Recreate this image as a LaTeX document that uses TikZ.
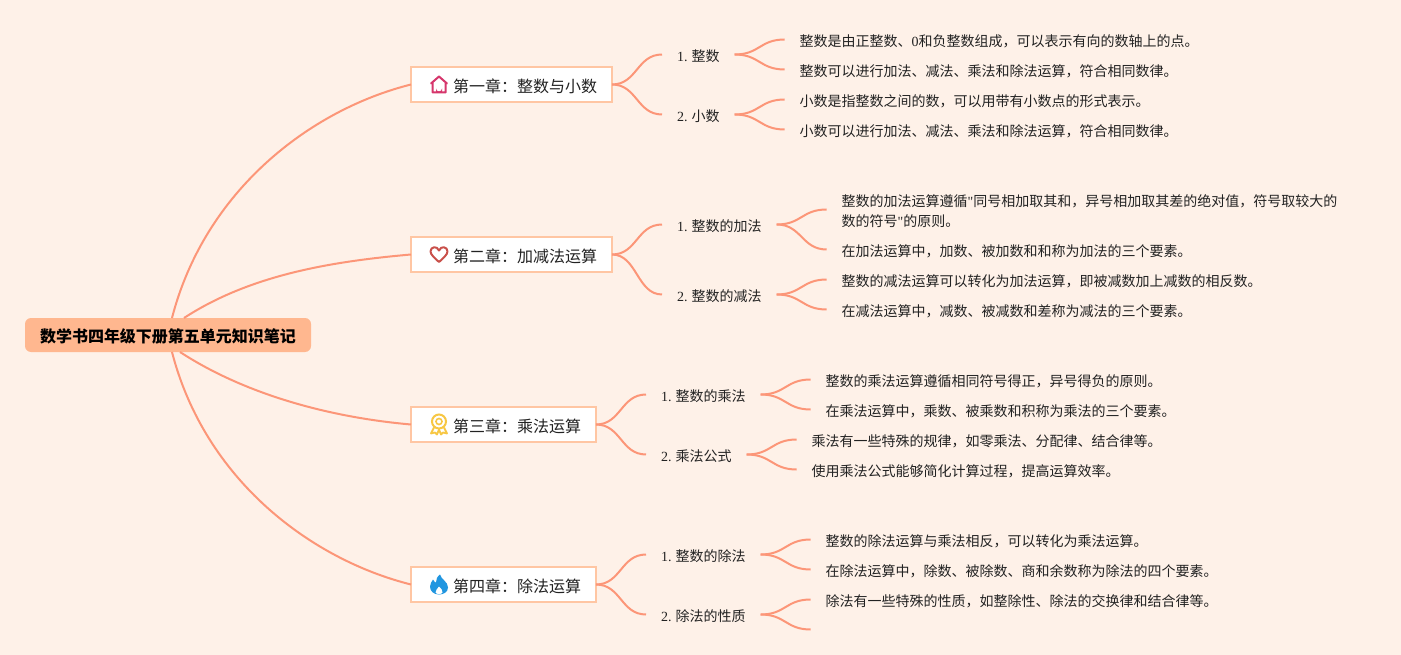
\documentclass[tikz,border=0pt]{standalone}
\usepackage{fontspec}
\setmainfont{Noto Sans CJK SC}
\newfontfamily\numfont{Liberation Serif}
\usetikzlibrary{positioning}
\definecolor{bgcol}{HTML}{FEF1E8}
\definecolor{rootcol}{HTML}{FFB78F}
\definecolor{linecol}{HTML}{FC9678}
\definecolor{framecol}{HTML}{FFC6A3}
\definecolor{txtcol}{HTML}{222222}
\definecolor{homecol}{HTML}{D6366C}
\definecolor{heartcol}{HTML}{C9504A}
\definecolor{medalcol}{HTML}{F7C744}
\definecolor{flamecol}{HTML}{2196E0}
\tikzset{
    homeicon/.pic={
        \draw[line width=2pt, draw=homecol, line join=round, line cap=round] (-8,-1) -- (0,-8) -- (8,-1) (-6.5,-2) -- (-6.5,8) -- (6.5,8) -- (6.5,-2);
        \fill[homecol] (-3,8) -- (-3,4) arc[start angle=180, end angle=0, radius=3] -- (3,8) -- cycle;
    },
    hearticon/.pic={
        \draw[line width=2pt, draw=heartcol, line join=round] (0,7.5) .. controls (-4,4) and (-8.5,0) .. (-8.5,-3) .. controls (-8.5,-8) and (-2,-9) .. (0,-4) .. controls (2,-9) and (8.5,-8) .. (8.5,-3) .. controls (8.5,0) and (4,4) .. (0,7.5) -- cycle;
    },
    medalicon/.pic={
        \draw[line width=2pt, draw=medalcol] (0,-3) circle[radius=7];
        \draw[line width=1.6pt, draw=medalcol] (0,-3) circle[radius=3];
        \draw[line width=1.8pt, draw=medalcol, line join=round] (-5,3) -- (-8,9) -- (-4,8) -- (-2,10) -- (0,5) -- (2,10) -- (4,8) -- (8,9) -- (5,3);
    },
    flameicon/.pic={
        \fill[flamecol] (1,-10) .. controls (2,-5) and (9,-3) .. (9,3) .. controls (9,8) and (4,10) .. (0,10) .. controls (-5,10) and (-9,7) .. (-9,2) .. controls (-9,-1) and (-7,-3) .. (-6,-5) .. controls (-5,-3) and (-4,-2) .. (-3,-2) .. controls (-3,-5) and (-2,-8) .. (1,-10) -- cycle;
        \fill[white] (0,2) .. controls (2,4) and (4,6) .. (3.5,8) .. controls (3,10) and (-3,10) .. (-3.5,8) .. controls (-4,6) and (-1,4) .. (0,2) -- cycle;
    }
}

\begin{document}
\begin{tikzpicture}[x=1pt, y=-1pt]
    \tikzstyle{rootstyle}=[fill=rootcol, rounded corners=6pt, minimum width=286pt, minimum height=34pt, inner sep=0pt, outer sep=0pt, text height=17pt, text depth=2pt, text=black, font=\fontsize{16pt}{20pt}\selectfont\bfseries]
    \tikzstyle{chapstyle}=[anchor=west, draw=framecol, line width=2pt, fill=white, minimum height=35pt, inner xsep=15pt, inner ysep=0pt, outer sep=0pt, text height=18pt, text depth=2pt, text=txtcol, font=\fontsize{16pt}{20pt}\selectfont]
    \tikzstyle{substyle}=[inner xsep=15pt, inner ysep=0pt, outer sep=0pt, text height=16.5pt, text depth=2pt, text=txtcol, font=\fontsize{14pt}{20pt}\selectfont]
    \tikzstyle{leafstyle}=[inner xsep=15pt, inner ysep=0pt, outer sep=0pt, text height=16.5pt, text depth=2pt, align=left, text=txtcol, font=\fontsize{14pt}{20pt}\selectfont]
    \tikzstyle{mainline}=[draw=linecol, line width=2pt]
    \tikzstyle{subline}=[draw=linecol, line width=2pt]

    \fill[bgcol] (0,0) rectangle (1401,655);
    \useasboundingbox (0,0) rectangle (1401,655);

    \node[rootstyle] (root) at (168,335) {数学书四年级下册第五单元知识笔记};

    \node[chapstyle] (ch1) at (411,84.5) {\hspace{27pt}第一章：整数与小数};
    \node[chapstyle] (ch2) at (411,254.5) {\hspace{27pt}第二章：加减法运算};
    \node[chapstyle] (ch3) at (411,424.5) {\hspace{27pt}第三章：乘法运算};
    \node[chapstyle] (ch4) at (411,584.5) {\hspace{27pt}第四章：除法运算};

    \pic at ([xshift=28pt]ch1.west) {homeicon};
    \pic at ([xshift=28pt]ch2.west) {hearticon};
    \pic at ([xshift=28pt]ch3.west) {medalicon};
    \pic at ([xshift=28pt]ch4.west) {flameicon};

    % chapter 1
    \node[substyle, right=50pt of ch1, yshift=30pt] (s11) {{\numfont 1.} 整数};
    \node[substyle, right=50pt of ch1, yshift=-30pt] (s12) {{\numfont 2.} 小数};
    \node[leafstyle, right=50pt of s11, yshift=15pt] (l111) {整数是由正整数、{\numfont 0}和负整数组成，可以表示有向的数轴上的点。};
    \node[leafstyle, right=50pt of s11, yshift=-15pt] (l112) {整数可以进行加法、减法、乘法和除法运算，符合相同数律。};
    \node[leafstyle, right=50pt of s12, yshift=15pt] (l121) {小数是指整数之间的数，可以用带有小数点的形式表示。};
    \node[leafstyle, right=50pt of s12, yshift=-15pt] (l122) {小数可以进行加法、减法、乘法和除法运算，符合相同数律。};

    % chapter 2
    \node[substyle, right=50pt of ch2, yshift=30pt] (s21) {{\numfont 1.} 整数的加法};
    \node[substyle, right=50pt of ch2, yshift=-40pt] (s22) {{\numfont 2.} 整数的减法};
    \node[leafstyle, right=50pt of s21, yshift=15pt, text height=36pt, text depth=2.4pt] (l211) {整数的加法运算遵循{\numfont "}同号相加取其和，异号相加取其差的绝对值，符号取较大的\\数的符号{\numfont "}的原则。};
    \node[leafstyle, right=50pt of s21, yshift=-25pt] (l212) {在加法运算中，加数、被加数和和称为加法的三个要素。};
    \node[leafstyle, right=50pt of s22, yshift=15pt] (l221) {整数的减法运算可以转化为加法运算，即被减数加上减数的相反数。};
    \node[leafstyle, right=50pt of s22, yshift=-15pt] (l222) {在减法运算中，减数、被减数和差称为减法的三个要素。};

    % chapter 3
    \node[substyle, right=50pt of ch3, yshift=30pt] (s31) {{\numfont 1.} 整数的乘法};
    \node[substyle, right=50pt of ch3, yshift=-30pt] (s32) {{\numfont 2.} 乘法公式};
    \node[leafstyle, right=50pt of s31, yshift=15pt] (l311) {整数的乘法运算遵循相同符号得正，异号得负的原则。};
    \node[leafstyle, right=50pt of s31, yshift=-15pt] (l312) {在乘法运算中，乘数、被乘数和积称为乘法的三个要素。};
    \node[leafstyle, right=50pt of s32, yshift=15pt] (l321) {乘法有一些特殊的规律，如零乘法、分配律、结合律等。};
    \node[leafstyle, right=50pt of s32, yshift=-15pt] (l322) {使用乘法公式能够简化计算过程，提高运算效率。};

    % chapter 4
    \node[substyle, right=50pt of ch4, yshift=30pt] (s41) {{\numfont 1.} 整数的除法};
    \node[substyle, right=50pt of ch4, yshift=-30pt] (s42) {{\numfont 2.} 除法的性质};
    \node[leafstyle, right=50pt of s41, yshift=15pt] (l411) {整数的除法运算与乘法相反，可以转化为乘法运算。};
    \node[leafstyle, right=50pt of s41, yshift=-15pt] (l412) {在除法运算中，除数、被除数、商和余数称为除法的四个要素。};
    \node[leafstyle, right=50pt of s42, yshift=15pt] (l421) {除法有一些特殊的性质，如整除性、除法的交换律和结合律等。};
    \coordinate[right=50pt of s42, yshift=-15pt] (l422);

    % lines from the root
    \draw[mainline] ([xshift=4pt]root.north) .. controls +(33,-128) and +(-100,25) .. (ch1.west);
    \draw[mainline] ([xshift=16pt]root.north) .. controls +(66,-43) and +(-80,7) .. (ch2.west);
    \draw[mainline] ([xshift=12pt]root.south) .. controls +(66,43) and +(-80,-7) .. (ch3.west);
    \draw[mainline] ([xshift=4pt]root.south) .. controls +(33,128) and +(-100,-25) .. (ch4.west);

    % lines from chapters to sections
    \foreach \a/\b in {ch1/s11, ch1/s12, ch2/s21, ch2/s22, ch3/s31, ch3/s32, ch4/s41, ch4/s42}
        \draw[subline] (\a.east) .. controls +(25,0) and +(-25,0) .. (\b.west);

    % lines from sections to leaves
    \foreach \a/\b in {s11/l111, s11/l112, s12/l121, s12/l122, s21/l211, s21/l212, s22/l221, s22/l222, s31/l311, s31/l312, s32/l321, s32/l322, s41/l411, s41/l412, s42/l421}
        \draw[subline] (\a.east) .. controls +(25,0) and +(-25,0) .. (\b.west);
    \draw[subline] (s42.east) .. controls +(25,0) and +(-25,0) .. (l422);

\end{tikzpicture}
\end{document}
